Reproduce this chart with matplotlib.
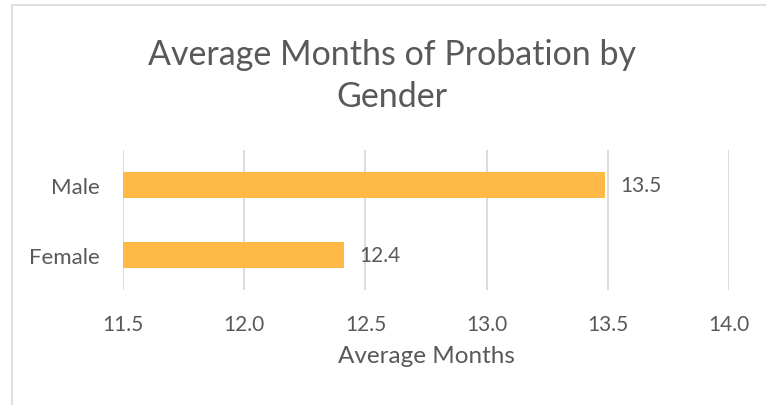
import matplotlib
matplotlib.use("Agg")
import matplotlib.pyplot as plt
from matplotlib.lines import Line2D

categories = ["Female", "Male"]
months = [12.41, 13.49]
labels = ["12.4", "13.5"]
xticks = [11.5, 12.0, 12.5, 13.0, 13.5, 14.0]

INK = "#595959"
BAR = "#FFB946"
GRID = "#D9D9D9"
plt.rcParams.update({"font.family": ["Lato", "DejaVu Sans"], "text.color": INK})

W, H = 766, 406
fig = plt.figure(figsize=(W / 100, H / 100), dpi=100)
ax = fig.add_axes([123 / W, 1 - 291 / H, (729 - 123) / W, (291 - 151) / H])

# chart frame (open to the right and bottom)
fig.add_artist(Line2D([11.5 / W, 11.5 / W], [0, 1 - 6 / H], color=GRID, lw=1.2))
fig.add_artist(Line2D([11.5 / W, 1], [1 - 6 / H, 1 - 6 / H], color=GRID, lw=1.2))

y = range(len(categories))
ax.barh(y, [m - xticks[0] for m in months], left=xticks[0], height=0.36, color=BAR, zorder=3)
for yi, m, lab in zip(y, months, labels):
    ax.annotate(lab, (m, yi), xytext=(11, 0), textcoords="offset points",
                va="center", ha="left", fontsize=15, color=INK)

ax.set_xlim(xticks[0], xticks[-1])
ax.set_ylim(-0.5, 1.5)
ax.set_xticks(xticks)
ax.set_xticklabels([f"{t:.1f}" for t in xticks])
ax.set_yticks(list(y))
ax.set_yticklabels(categories)
ax.tick_params(axis="both", length=0, labelsize=15, colors=INK)
ax.tick_params(axis="x", pad=17)
ax.tick_params(axis="y", pad=17, labelsize=16)
ax.grid(axis="x", color=GRID, lw=1.3, zorder=0)
for s in ax.spines.values():
    s.set_visible(False)
ax.set_xlabel("Average Months", fontsize=17.5, color=INK, labelpad=8)

fig.text(392 / W, 1 - 76 / H, "Average Months of Probation by\nGender", ha="center", va="center",
         fontsize=24.5, color=INK, linespacing=1.4)

fig.savefig("out.png", dpi=100, facecolor="white")
